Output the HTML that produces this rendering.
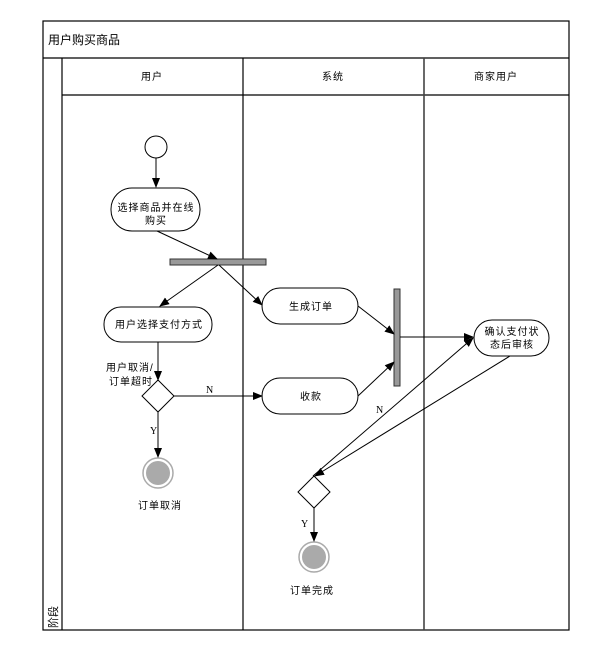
<!DOCTYPE html>
<html><head><meta charset="utf-8"><style>
body{margin:0;background:#fff;}
svg text{font-family:"Liberation Sans","Noto Sans CJK SC",sans-serif;font-size:10px;fill:#000;letter-spacing:1px;}
</style></head><body>
<svg width="614" height="642" xmlns="http://www.w3.org/2000/svg">
<defs><marker id="a" markerWidth="10" markerHeight="8" refX="9" refY="4" orient="auto" markerUnits="userSpaceOnUse"><path d="M0,0 L10,4 L0,8 z" fill="#000"/></marker></defs>
<rect width="614" height="642" fill="#fff"/>
<g stroke="#000" fill="none" stroke-width="1.2">
<rect x="43" y="21" width="526" height="609"/>
<line x1="43" y1="58" x2="569" y2="58"/>
<line x1="62" y1="58" x2="62" y2="630"/>
<line x1="62" y1="95" x2="569" y2="95"/>
<line x1="243" y1="58" x2="243" y2="630"/>
<line x1="424" y1="58" x2="424" y2="630" stroke="#444" stroke-width="1.6"/>
</g>
<text x="48" y="44" style="font-size:12px;letter-spacing:0">用户购买商品</text>
<text x="152" y="80" text-anchor="middle">用户</text>
<text x="333" y="80" text-anchor="middle">系统</text>
<text x="496" y="80" text-anchor="middle">商家用户</text>
<text transform="translate(57,628) rotate(-90)" style="font-size:11px;letter-spacing:0">阶段</text>

<g stroke="#000" fill="#fff" stroke-width="1">
<circle cx="156" cy="147" r="11"/>
<rect x="111" y="188" width="89" height="43" rx="21"/>
<rect x="104" y="307" width="108" height="35" rx="17"/>
<rect x="262" y="288" width="96" height="36" rx="18"/>
<rect x="262" y="378" width="96" height="36" rx="18"/>
<rect x="474" y="320" width="75" height="36" rx="18"/>
<path d="M158,380 L174,396 L158,412 L142,396 Z"/>
<path d="M314,476 L330,492 L314,508 L298,492 Z"/>
</g>
<rect x="170" y="259" width="96" height="6" fill="#999" stroke="#333"/>
<rect x="394" y="289" width="6" height="97" fill="#999" stroke="#333"/>
<g fill="#aaa" stroke="#bbb"><circle cx="158" cy="473" r="15" fill="#fff" stroke="#aaa" stroke-width="1.5"/><circle cx="158" cy="473" r="12" stroke="none"/>
<circle cx="314" cy="557" r="15" fill="#fff" stroke="#aaa" stroke-width="1.5"/><circle cx="314" cy="557" r="12" stroke="none"/></g>

<g stroke="#000" stroke-width="1" fill="none" marker-end="url(#a)">
<line x1="156" y1="158" x2="156" y2="187"/>
<line x1="157" y1="231" x2="217" y2="259"/>
<line x1="218" y1="265" x2="160" y2="306"/>
<line x1="219" y1="265" x2="262" y2="305"/>
<line x1="158" y1="342" x2="158" y2="380"/>
<line x1="174" y1="396" x2="262" y2="396"/>
<line x1="158" y1="412" x2="158" y2="457"/>
<line x1="358" y1="306" x2="394" y2="334"/>
<line x1="358" y1="396" x2="394" y2="362"/>
<line x1="400" y1="337" x2="473" y2="337"/>
<line x1="510" y1="356" x2="315" y2="476"/>
<line x1="313" y1="476" x2="473" y2="338"/>
<line x1="314" y1="508" x2="314" y2="541"/>
</g>
<text x="156" y="211" text-anchor="middle">选择商品并在线</text>
<text x="156" y="224" text-anchor="middle">购买</text>
<text x="159" y="328" text-anchor="middle">用户选择支付方式</text>
<text x="311" y="310" text-anchor="middle">生成订单</text>
<text x="311" y="400" text-anchor="middle">收款</text>
<text x="512" y="335" text-anchor="middle">确认支付状</text>
<text x="512" y="348" text-anchor="middle">态后审核</text>
<text x="106" y="371">用户取消/</text>
<text x="109" y="385">订单超时</text>
<text x="206" y="393" style="font-family:'Liberation Serif',serif">N</text>
<text x="150" y="434" style="font-family:'Liberation Serif',serif">Y</text>
<text x="376" y="413" style="font-family:'Liberation Serif',serif">N</text>
<text x="301" y="527" style="font-family:'Liberation Serif',serif">Y</text>
<text x="160" y="509" text-anchor="middle">订单取消</text>
<text x="312" y="594" text-anchor="middle">订单完成</text>
</svg>
</body></html>
